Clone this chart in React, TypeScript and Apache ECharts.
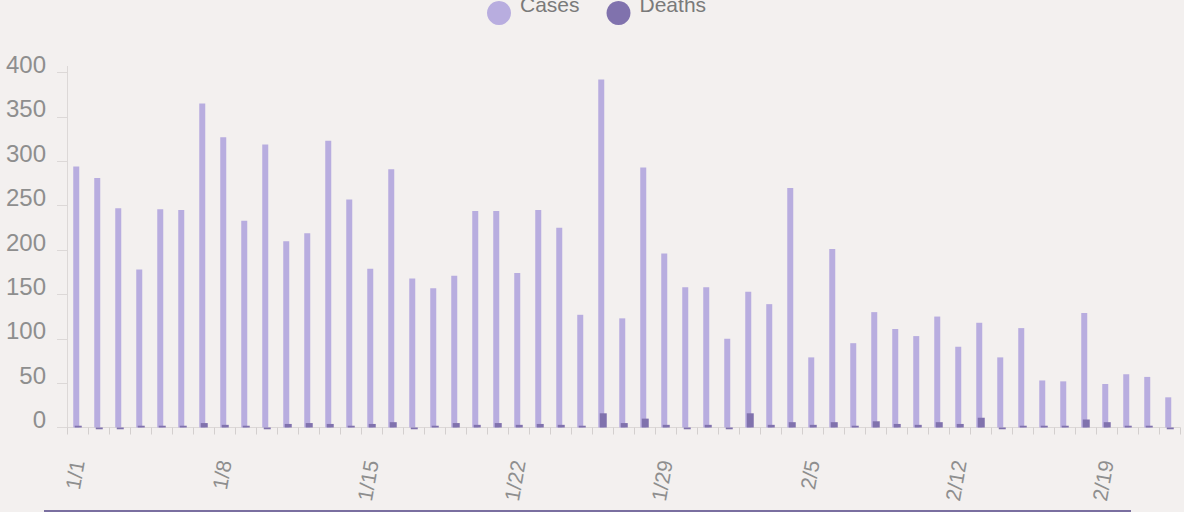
import React, { useEffect, useRef } from "react";
import * as echarts from "echarts";

const dates = [
  "1/1", "1/2", "1/3", "1/4", "1/5", "1/6", "1/7", "1/8", "1/9", "1/10",
  "1/11", "1/12", "1/13", "1/14", "1/15", "1/16", "1/17", "1/18", "1/19", "1/20",
  "1/21", "1/22", "1/23", "1/24", "1/25", "1/26", "1/27", "1/28", "1/29", "1/30",
  "1/31", "2/1", "2/2", "2/3", "2/4", "2/5", "2/6", "2/7", "2/8", "2/9",
  "2/10", "2/11", "2/12", "2/13", "2/14", "2/15", "2/16", "2/17", "2/18", "2/19",
  "2/20", "2/21", "2/22",
];

const cases = [
  294, 281, 247, 178, 246, 245, 365, 327, 233, 319,
  210, 219, 323, 257, 179, 291, 168, 157, 171, 244,
  244, 174, 245, 225, 127, 392, 123, 293, 196, 158,
  158, 100, 153, 139, 270, 79, 201, 95, 130, 111,
  103, 125, 91, 118, 79, 112, 53, 52, 129, 49,
  60, 57, 34,
];

const deaths = [
  2, -2, -2, 2, 2, 2, 5, 3, 2, -2,
  4, 5, 4, 2, 4, 6, -2, 2, 5, 3,
  5, 3, 4, 3, 2, 16, 5, 10, 3, -2,
  3, -2, 16, 3, 6, 3, 6, 2, 7, 4,
  3, 6, 4, 11, -2, 2, 2, 2, 9, 6,
  2, 2, -2,
];

const yTicks = { min: 0, max: 400, interval: 50 };

const BG = "#f3f0ef";
const CASES_COLOR = "#b8addf";
const DEATHS_COLOR = "#8072ad";
const AXIS_COLOR = "#dcd8d7";
const LABEL_COLOR = "#8e8e8e";
const FONT = "'Liberation Sans', Arial, Helvetica, sans-serif";

export default function App() {
  const ref = useRef<HTMLDivElement>(null);

  useEffect(() => {
    if (!ref.current) return;
    const chart = echarts.init(ref.current, null, { renderer: "svg" });
    chart.setOption({
      animation: false,
      backgroundColor: BG,
      textStyle: { fontFamily: FONT },
      legend: {
        data: ["Cases", "Deaths"],
        top: -6,
        left: 487,
        padding: 0,
        icon: "circle",
        itemWidth: 24,
        itemHeight: 24,
        itemGap: 27,
        formatter: "{t|{name}}",
        textStyle: {
          fontSize: 21,
          color: "#7a7a7a",
          fontFamily: FONT,
          rich: {
            t: {
              fontSize: 21,
              color: "#7a7a7a",
              fontFamily: FONT,
              padding: [0, 0, 17, 4],
            },
          },
        },
      },
      grid: { left: 67, right: 4, top: 72.5, bottom: 84.5, containLabel: false },
      xAxis: {
        type: "category",
        data: dates,
        boundaryGap: true,
        axisLine: { show: true, lineStyle: { color: AXIS_COLOR, width: 1 } },
        axisTick: { show: true, interval: 0, length: 7, lineStyle: { color: "#d3cfce" } },
        axisLabel: {
          interval: 6,
          rotate: 80,
          margin: 33,
          fontSize: 21,
          color: LABEL_COLOR,
          fontFamily: FONT,
        },
        splitLine: { show: false },
      },
      yAxis: {
        type: "value",
        min: yTicks.min,
        max: yTicks.max,
        interval: yTicks.interval,
        splitLine: { show: false },
        axisLine: { show: true, lineStyle: { color: AXIS_COLOR, width: 1 } },
        axisTick: { show: true, length: 10, lineStyle: { color: AXIS_COLOR } },
        axisLabel: {
          fontSize: 24,
          color: LABEL_COLOR,
          margin: 21,
          verticalAlign: "bottom",
          lineHeight: 16,
          fontFamily: FONT,
        },
      },
      series: [
        {
          name: "Cases",
          type: "bar",
          data: cases,
          barWidth: 6,
          barGap: "-75%",
          itemStyle: { color: CASES_COLOR },
        },
        {
          name: "Deaths",
          type: "bar",
          data: deaths,
          barWidth: 7,
          barGap: "-75%",
          clip: false,
          itemStyle: { color: DEATHS_COLOR },
        },
      ],
      graphic: [
        {
          type: "line",
          shape: { x1: 67.5, y1: 66, x2: 67.5, y2: 73 },
          style: { stroke: AXIS_COLOR, lineWidth: 1 },
        },
        {
          type: "rect",
          shape: { x: 44, y: 510, width: 1087, height: 2 },
          style: { fill: "#7a6fa0" },
        },
      ],
    });
    return () => chart.dispose();
  }, []);

  return (
    <div
      ref={ref}
      style={{ position: "fixed", left: 0, top: 0, width: 1184, height: 512, background: BG }}
    />
  );
}
